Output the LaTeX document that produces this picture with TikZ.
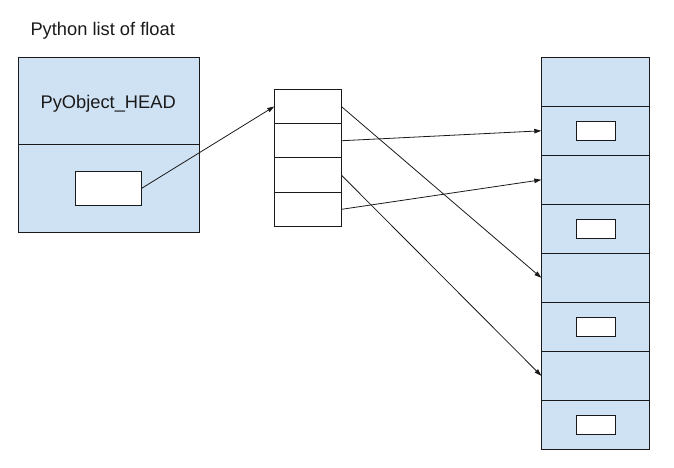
\documentclass[tikz,border=0pt]{standalone}
\usepackage{fontspec}
\setmainfont{Liberation Sans}
\usetikzlibrary{arrows.meta}
\definecolor{cellblue}{HTML}{CFE2F3}
\definecolor{ink}{HTML}{1A1A1A}
\begin{document}
\begin{tikzpicture}[x=1pt,y=-1pt,
  box/.style={draw=ink, line width=1pt, inner sep=0pt, outer sep=0pt},
  bluebox/.style={box, fill=cellblue},
  whitebox/.style={box, fill=white},
  label/.style={inner sep=0pt, outer sep=0pt, font=\fontsize{18.3}{22}\selectfont, text=ink},
  ptr/.style={draw=ink, line width=0.8pt, -{Triangle[length=7pt,width=4.5pt]}}
]
\useasboundingbox (0,0) rectangle (674,468);

% title
\node[label, anchor=base west] (title) at (30.5,35.7) {Python list of float};

% list object: header and pointer field
\node[bluebox, minimum width=181pt, minimum height=87pt] (head) at (109.2,100.8) {};
\node[bluebox, minimum width=181pt, minimum height=87.7pt] (body) at (109.2,188.15) {};
\node[label, anchor=base] (headtxt) at (108.2,108.3) {PyObject\_HEAD};
\node[whitebox, minimum width=66.4pt, minimum height=34pt] (p) at (108.5,188.3) {};

% array of pointers
\foreach \i in {1,...,4}{
  \node[whitebox, minimum width=67pt, minimum height=34.3pt] (m\i) at (307.8,{106.45+34.3*(\i-1)}) {};
}

% float objects
\foreach \i in {1,...,8}{
  \node[bluebox, minimum width=108pt, minimum height=49pt] (r\i) at (595.3,{81.8+49*(\i-1)}) {};
}
\foreach \i in {2,4,6,8}{
  \node[whitebox, minimum width=39pt, minimum height=19pt] (v\i) at (595.8,{81.8+49*(\i-1)}) {};
}

% pointers
\draw[ptr] (p.east) -- (m1.west);
\draw[ptr] (m1.east) -- (r5.west);
\draw[ptr] (m2.east) -- (r2.west);
\draw[ptr] (m3.east) -- (r7.west);
\draw[ptr] (m4.east) -- (r3.west);
\end{tikzpicture}
\end{document}
